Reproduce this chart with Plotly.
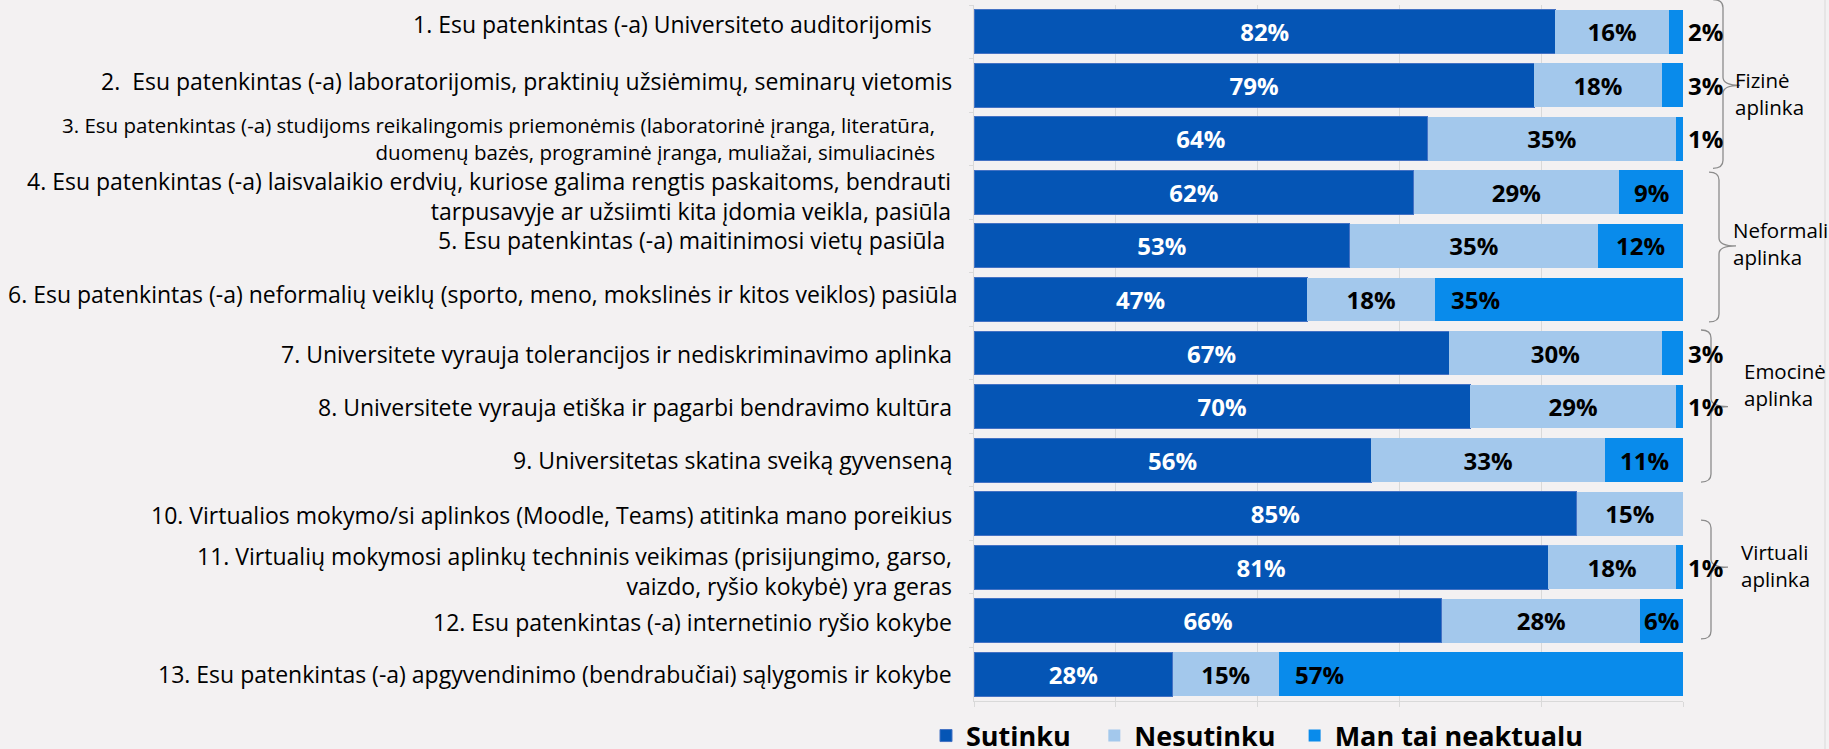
import plotly.graph_objects as go

# Data
questions = [
    "1. Esu patenkintas (-a) Universiteto auditorijomis",
    "2.\u00a0 Esu patenkintas (-a) laboratorijomis, praktinių užsiėmimų, seminarų vietomis",
    "3. Esu patenkintas (-a) studijoms reikalingomis priemonėmis (laboratorinė įranga, literatūra,<br>duomenų bazės, programinė įranga, muliažai, simuliacinės",
    "4. Esu patenkintas (-a) laisvalaikio erdvių, kuriose galima rengtis paskaitoms, bendrauti<br>tarpusavyje ar užsiimti kita įdomia veikla, pasiūla",
    "5. Esu patenkintas (-a) maitinimosi vietų pasiūla",
    "6. Esu patenkintas (-a) neformalių veiklų (sporto, meno, mokslinės ir kitos veiklos) pasiūla",
    "7. Universitete vyrauja tolerancijos ir nediskriminavimo aplinka",
    "8. Universitete vyrauja etiška ir pagarbi bendravimo kultūra",
    "9. Universitetas skatina sveiką gyvenseną",
    "10. Virtualios mokymo/si aplinkos (Moodle, Teams) atitinka mano poreikius",
    "11. Virtualių mokymosi aplinkų techninis veikimas (prisijungimo, garso,<br>vaizdo, ryšio kokybė) yra geras",
    "12. Esu patenkintas (-a) internetinio ryšio kokybe",
    "13. Esu patenkintas (-a) apgyvendinimo (bendrabučiai) sąlygomis ir kokybe",
]
sutinku = [82, 79, 64, 62, 53, 47, 67, 70, 56, 85, 81, 66, 28]
nesutinku = [16, 18, 35, 29, 35, 18, 30, 29, 33, 15, 18, 28, 15]
neaktualu = [2, 3, 1, 9, 12, 35, 3, 1, 11, 0, 1, 6, 57]
series_names = ["Sutinku", "Nesutinku", "Man tai neaktualu"]

groups = ["Fizinė<br>aplinka", "Neformali<br>aplinka", "Emocinė<br>aplinka", "Virtuali<br>aplinka"]
group_rows = [(0, 2), (3, 5), (6, 8), (9, 11)]

#####################################
# Layout helpers (pixels -> paper)
W, H = 1829, 749
L, R, T, B = 974, 146, 5, 48
PW, PH = W - L - R, H - T - B
n = len(questions)


def px_x(px):
    return (px - L) / PW


def idx_y(idx):
    return 1 - (idx + 0.5) / n


FONT = "Open Sans"
C_DARK, C_LIGHT, C_BRIGHT = "#0555B5", "#A3C8EC", "#098BEB"
BG = "#F3F1F2"
# extra room after legend entries
pads = ["\u00a0\u00a0\u2009", "\u00a0\u00a0", ""]

fig = go.Figure()

fig.add_bar(
    y=questions, x=sutinku, orientation="h", name=series_names[0] + pads[0],
    marker=dict(color=C_DARK, line=dict(color="#4472C4", width=1)),
    text=[f"{v}%" for v in sutinku], textposition="inside", insidetextanchor="middle",
    textfont=dict(family=FONT, size=24, color="white", weight="bold"),
)
fig.add_bar(
    y=questions, x=nesutinku, orientation="h", name=series_names[1] + pads[1],
    marker=dict(color=C_LIGHT, line=dict(width=0)),
    text=[f"{v}%" for v in nesutinku], textposition="inside", insidetextanchor="middle",
    textfont=dict(family=FONT, size=24, color="black", weight="bold"),
)
fig.add_bar(
    y=questions, x=neaktualu, orientation="h", name=series_names[2] + pads[2],
    marker=dict(color=C_BRIGHT, line=dict(width=0)),
    textposition="none",
)

# labels of the third series
for q, a, b, c in zip(questions, sutinku, nesutinku, neaktualu):
    if c == 0:
        continue
    start = a + b
    if c <= 3:
        x, anchor, shift = start + c, "left", 3
    elif c >= 30:
        x, anchor, shift = start, "left", 14
    else:
        x, anchor, shift = start + c / 2, "center", 0
    fig.add_annotation(
        x=x, y=q, xref="x", yref="y", text=f"{c}%", showarrow=False,
        xanchor=anchor, xshift=shift,
        font=dict(family=FONT, size=24, color="black", weight="bold"),
    )

# category labels
label_right = [934, 954, 937, 953, 947, 959, 954, 954, 954, 954, 954, 954, 954]
label_size = [23, 23, 20.5, 23, 23, 23, 23, 23, 23, 23, 23, 23, 23]
label_dy = [8, 4, 0, -4, 6, 5, -1, 0, 0, -1, -4, -1, 0]
for q, rx, fs, dy in zip(questions, label_right, label_size, label_dy):
    fig.add_annotation(
        x=0, y=q, xref="paper", yref="y", text=q, showarrow=False,
        xanchor="right", yanchor="middle", align="right", xshift=rx - L, yshift=dy,
        font=dict(family=FONT, size=fs, color="black"),
    )

# group braces
brace_x = [1723, 1719, 1711, 1711]
brace_pad = [(-0.6, 0.55), (-0.38, 0.42), (-0.43, 0.41), (0.12, 0.34)]
text_x = [1733, 1731, 1742, 1739]
text_dy = [-8, 2, 22, 2]
for g, (r0, r1), bx, (p0, p1), tx, tdy in zip(groups, group_rows, brace_x, brace_pad, text_x, text_dy):
    x = px_x(bx)
    xl = px_x(bx - 10)
    xt = px_x(bx + 17)
    y0, y1 = idx_y(r0 + p0), idx_y(r1 + p1)
    ym = idx_y((r0 + r1) / 2)
    e = 8 / PH
    path = (
        f"M{xl},{y0} Q{x},{y0} {x},{y0 - e} L{x},{ym + e} Q{x},{ym} {xt},{ym} "
        f"Q{x},{ym} {x},{ym - e} L{x},{y1 + e} Q{x},{y1} {xl},{y1}"
    )
    fig.add_shape(type="path", path=path, xref="paper", yref="paper",
                  line=dict(color="#8C8C8C", width=1.3))
    fig.add_annotation(
        x=px_x(tx), y=ym, xref="paper", yref="paper", text=g, showarrow=False,
        xanchor="left", yanchor="middle", align="left", yshift=tdy,
        font=dict(family=FONT, size=20.5, color="black"),
    )

# right border of chart area
fig.add_shape(type="line", xref="paper", yref="paper",
              x0=px_x(1825), x1=px_x(1825), y0=-0.1, y1=1.1,
              line=dict(color="#D9D9D9", width=1))

fig.update_layout(
    barmode="stack",
    bargap=0.18,
    width=W, height=H,
    margin=dict(l=L, r=R, t=T, b=B, autoexpand=False),
    plot_bgcolor=BG,
    paper_bgcolor=BG,
    font=dict(family=FONT, color="black"),
    showlegend=True,
    legend=dict(
        orientation="h", xref="container", yref="container",
        x=926 / W, xanchor="left", y=1 - 736 / H, yanchor="middle",
        font=dict(family=FONT, size=27, color="black", weight="bold"),
        traceorder="normal", itemwidth=30,
    ),
)

# x axis
fig.update_xaxes(
    range=[0, 100], dtick=20, showticklabels=False, showgrid=True,
    gridcolor="#D9D9D9", gridwidth=1, zeroline=False,
    showline=True, linecolor="#D9D9D9", ticks="outside", ticklen=5, tickcolor="#D9D9D9",
)

# y axis
fig.update_yaxes(
    autorange="reversed", showticklabels=False, showline=True, linecolor="#D9D9D9",
    ticks="outside", ticklen=4, tickcolor="#D9D9D9", tickson="boundaries", showgrid=False,
)

fig.write_html(
    "out.html",
    config={"displayModeBar": False},
    post_script="document.body.style.margin='0';",
)
